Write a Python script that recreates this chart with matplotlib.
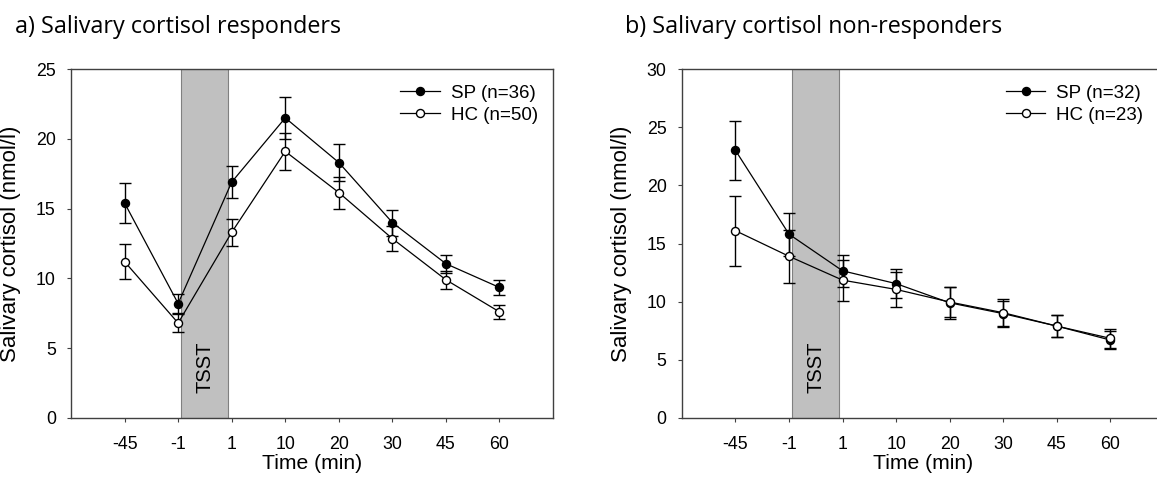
import matplotlib.pyplot as plt
from matplotlib import transforms

plt.rcParams['font.family'] = ['Liberation Sans', 'DejaVu Sans']

time_labels = ['-45', '-1', '1', '10', '20', '30', '45', '60']

# a) responders
resp_sp = [15.4, 8.2, 16.9, 21.5, 18.3, 14.0, 11.05, 9.35]
resp_sp_err = [1.45, 0.7, 1.15, 1.5, 1.3, 0.93, 0.65, 0.57]
resp_hc = [11.2, 6.8, 13.3, 19.1, 16.15, 12.85, 9.9, 7.6]
resp_hc_err = [1.25, 0.65, 0.97, 1.35, 1.15, 0.87, 0.63, 0.53]

# b) non-responders
non_sp = [23.0, 15.8, 12.65, 11.55, 9.9, 8.97, 7.9, 6.7]
non_sp_err = [2.55, 1.85, 1.4, 1.27, 1.35, 1.13, 0.95, 0.75]
non_hc = [16.1, 13.9, 11.85, 11.05, 9.97, 9.05, 7.9, 6.85]
non_hc_err = [3.0, 2.3, 1.75, 1.5, 1.33, 1.15, 0.95, 0.8]

panels = [
    ('a) Salivary cortisol responders', resp_sp, resp_sp_err, resp_hc, resp_hc_err,
     'SP (n=36)', 'HC (n=50)', 25, [0.0614, 0.1328, 0.4166, 0.724], 0.013, 0.683),
    ('b) Salivary cortisol non-responders', non_sp, non_sp_err, non_hc, non_hc_err,
     'SP (n=32)', 'HC (n=23)', 30, [0.5894, 0.1328, 0.4166, 0.724], 0.5405, 0.672),
]

fig = plt.figure(figsize=(11.57, 4.82), dpi=100)
x = list(range(len(time_labels)))

for title, sp, sp_err, hc, hc_err, sp_lab, hc_lab, ymax, rect, tx, lx in panels:
    ax = fig.add_axes(rect)
    for s in ax.spines.values():
        s.set_color('#404040')
        s.set_linewidth(1.0)
    ax.axvspan(1.05, 1.94, facecolor='#c0c0c0', edgecolor='#808080', lw=0.8, zorder=0)
    trans = transforms.blended_transform_factory(ax.transData, ax.transAxes)
    ax.text(1.5, 0.145, 'TSST', rotation=90, ha='center', va='center',
            fontsize=14.5, transform=trans)

    ax.errorbar(x, sp, yerr=sp_err, fmt='-o', color='black', mfc='black', mec='black',
                ms=5.8, lw=0.9, elinewidth=1, capsize=4, capthick=1, label=sp_lab, zorder=3)
    ax.errorbar(x, hc, yerr=hc_err, fmt='-o', color='black', mfc='white', mec='black',
                ms=5.8, lw=0.9, elinewidth=1, capsize=4, capthick=1, label=hc_lab, zorder=3)

    ax.set_xlim(-1, 8)
    ax.set_ylim(0, ymax)
    ax.set_xticks(x)
    ax.set_xticklabels(time_labels, fontsize=12.8)
    ax.set_yticks(range(0, ymax + 1, 5))
    ax.tick_params(axis='y', labelsize=12.8, direction='out', length=3, pad=8,
                   color='#404040')
    ax.tick_params(axis='x', direction='out', length=3, pad=10, color='#404040')
    ax.set_xlabel('Time (min)', fontsize=15.2)
    ax.set_ylabel('Salivary cortisol (nmol/l)', fontsize=16)
    ax.xaxis.set_label_coords(0.5, -0.103)
    ax.yaxis.set_label_coords(-0.104, 0.5)

    handles, labels = ax.get_legend_handles_labels()
    handles = [h[0] for h in handles]
    ax.legend(handles, labels, loc='upper left', frameon=False, fontsize=13.5,
              handlelength=2.1, handletextpad=0.6, labelspacing=0.25,
              borderpad=0, borderaxespad=0, bbox_to_anchor=(lx, 0.955))

    fig.text(tx, 0.944, title, fontsize=16.8, family='Open Sans',
             ha='left', va='center')

fig.savefig('out.png', dpi=100)
